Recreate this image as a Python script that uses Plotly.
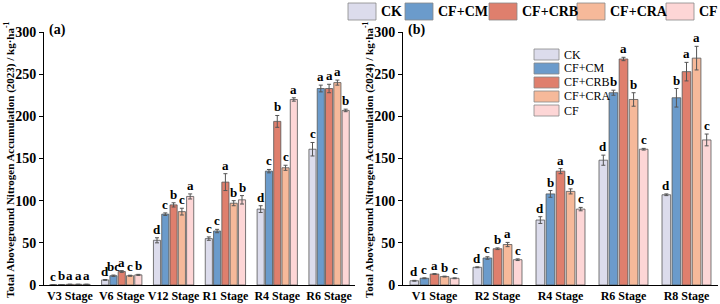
import plotly.graph_objects as go

series = ["CK", "CF+CM", "CF+CRB", "CF+CRA", "CF"]
colors = ["#dcdcec", "#6b9bcb", "#df7f6d", "#f6b99a", "#fdd6d6"]

stages_2023 = ["V3 Stage", "V6 Stage", "V12 Stage", "R1 Stage", "R4 Stage", "R6 Stage"]
ck_2023 = [0.3, 6, 53, 55, 90, 161]
cm_2023 = [0.5, 11, 84, 64, 135, 233]
crb_2023 = [0.8, 16, 95, 122, 194, 233]
cra_2023 = [0.8, 11, 87, 97, 139, 240]
cf_2023 = [0.8, 12, 105, 101, 220, 207]
ck_2023_err = [0.1, 0.5, 3, 2, 4, 8]
cm_2023_err = [0.1, 0.8, 1.5, 2, 2, 4]
crb_2023_err = [0.1, 1, 2.5, 10, 7, 5]
cra_2023_err = [0.1, 0.6, 4, 3, 3, 3]
cf_2023_err = [0.1, 0.6, 3, 5, 2, 1.5]
ck_2023_lab = ["c", "d", "d", "c", "d", "c"]
cm_2023_lab = ["b", "bc", "c", "c", "c", "a"]
crb_2023_lab = ["a", "a", "b", "a", "b", "a"]
cra_2023_lab = ["a", "c", "c", "b", "c", "a"]
cf_2023_lab = ["a", "b", "a", "b", "a", "b"]

stages_2024 = ["V1 Stage", "R2 Stage", "R4 Stage", "R6 Stage", "R8 Stage"]
ck_2024 = [5, 21, 77, 148, 107]
cm_2024 = [8, 32, 108, 228, 222]
crb_2024 = [13, 43, 135, 268, 253]
cra_2024 = [10, 48, 111, 220, 269]
cf_2024 = [8, 30, 90, 161, 172]
ck_2024_err = [0.5, 0.5, 4, 6, 1]
cm_2024_err = [0.5, 1.5, 4, 3, 11]
crb_2024_err = [0.5, 1, 3, 2, 11]
cra_2024_err = [0.5, 2.5, 3, 8, 14]
cf_2024_err = [0.5, 1, 2, 1, 7]
ck_2024_lab = ["d", "d", "d", "d", "d"]
cm_2024_lab = ["c", "c", "b", "b", "b"]
crb_2024_lab = ["a", "b", "a", "a", "a"]
cra_2024_lab = ["b", "a", "b", "b", "a"]
cf_2024_lab = ["c", "c", "c", "c", "c"]

panels = [
    ("x", "y", stages_2023,
     [ck_2023, cm_2023, crb_2023, cra_2023, cf_2023],
     [ck_2023_err, cm_2023_err, crb_2023_err, cra_2023_err, cf_2023_err],
     [ck_2023_lab, cm_2023_lab, crb_2023_lab, cra_2023_lab, cf_2023_lab]),
    ("x2", "y2", stages_2024,
     [ck_2024, cm_2024, crb_2024, cra_2024, cf_2024],
     [ck_2024_err, cm_2024_err, crb_2024_err, cra_2024_err, cf_2024_err],
     [ck_2024_lab, cm_2024_lab, crb_2024_lab, cra_2024_lab, cf_2024_lab]),
]

BARGAP = 0.2
GROUPGAP = 0.14
SERIF = "Liberation Serif"
EDGE = "#555555"

fig = go.Figure()
annotations = []
n = len(series)
for xa, ya, stages, vals, errs, labs in panels:
    for j in range(n):
        fig.add_trace(go.Bar(
            x=stages, y=vals[j], name=series[j], xaxis=xa, yaxis=ya,
            offsetgroup=str(j), showlegend=False,
            marker=dict(color=colors[j], line=dict(color=EDGE, width=0.8)),
            error_y=dict(type="data", array=errs[j], color=EDGE, thickness=1, width=2),
        ))
        slot = (1 - BARGAP) / n
        for i in range(len(stages)):
            xpos = i - (1 - BARGAP) / 2 + slot * (j + 0.5)
            annotations.append(dict(
                x=xpos, y=vals[j][i] + errs[j][i], xref=xa, yref=ya,
                text="<b>%s</b>" % labs[j][i], showarrow=False,
                xanchor="center", yanchor="bottom", yshift=-1,
                font=dict(family=SERIF, size=13, color="black"),
            ))

ydom = [19 / 304, 272 / 304]
for xc, yr in [(9, "2023"), (368, "2024")]:
    annotations.append(dict(
        x=xc / 720, y=1 - 160 / 304, xref="paper", yref="paper",
        text="<b>Total Aboveground Nitrogen Accumulation (%s) / kg·ha<sup>-1</sup></b>" % yr,
        textangle=-90, showarrow=False, xanchor="center", yanchor="middle",
        font=dict(family=SERIF, size=11, color="black"),
    ))
for xp, t in [(47, "(a)"), (406, "(b)")]:
    annotations.append(dict(
        x=xp / 720, y=ydom[1] + 0.005, xref="paper", yref="paper", text="<b>%s</b>" % t,
        showarrow=False, xanchor="left", yanchor="middle",
        font=dict(family=SERIF, size=14, color="black"),
    ))

shapes = []
top_box_x = [348, 405, 489, 577, 666]
for j in range(n):
    x0 = top_box_x[j]
    shapes.append(dict(type="rect", xref="paper", yref="paper",
                       x0=x0 / 720, x1=(x0 + 28) / 720, y0=1 - 20 / 304, y1=1 - 3 / 304,
                       fillcolor=colors[j], line=dict(color="#888888", width=0.8)))
    annotations.append(dict(
        x=(x0 + 31) / 720, y=1 - 11.5 / 304, xref="paper", yref="paper",
        text="<b>%s</b>" % series[j], showarrow=False, xanchor="left", yanchor="middle",
        font=dict(family=SERIF, size=14, color="black"),
    ))
for j in range(n):
    top = 49 + j * 14
    shapes.append(dict(type="rect", xref="paper", yref="paper",
                       x0=534 / 720, x1=559 / 720, y0=1 - (top + 11) / 304, y1=1 - top / 304,
                       fillcolor=colors[j], line=dict(color="#888888", width=0.8)))
    annotations.append(dict(
        x=562 / 720, y=1 - (top + 5.5) / 304, xref="paper", yref="paper",
        text=series[j], showarrow=False, xanchor="left", yanchor="middle",
        font=dict(family=SERIF, size=12, color="black"),
    ))

xcommon = dict(showline=True, linecolor="black", linewidth=1, ticks="", showgrid=False,
               tickfont=dict(family=SERIF, size=12, color="black", weight="bold"),
               tickangle=0, zeroline=False, automargin=False)
ycommon = dict(range=[0, 300], dtick=50, showline=True, linecolor="black", linewidth=1,
               ticks="outside", ticklen=4, tickcolor="black", showgrid=False, zeroline=False,
               tickfont=dict(family=SERIF, size=14, color="black", weight="bold"),
               domain=ydom, automargin=False)

fig.update_layout(
    width=720, height=304, margin=dict(l=0, r=0, t=0, b=0, autoexpand=False),
    paper_bgcolor="white", plot_bgcolor="white",
    barmode="group", bargap=BARGAP, bargroupgap=GROUPGAP,
    xaxis=dict(domain=[44 / 720, 355 / 720], range=[-0.5, 5.5], anchor="y", **xcommon),
    yaxis=dict(anchor="x", **ycommon),
    xaxis2=dict(domain=[403 / 720, 718 / 720], range=[-0.5, 4.5], anchor="y2", **xcommon),
    yaxis2=dict(anchor="x2", **ycommon),
    annotations=annotations, shapes=shapes, showlegend=False,
)

fig.write_html("out.html")
